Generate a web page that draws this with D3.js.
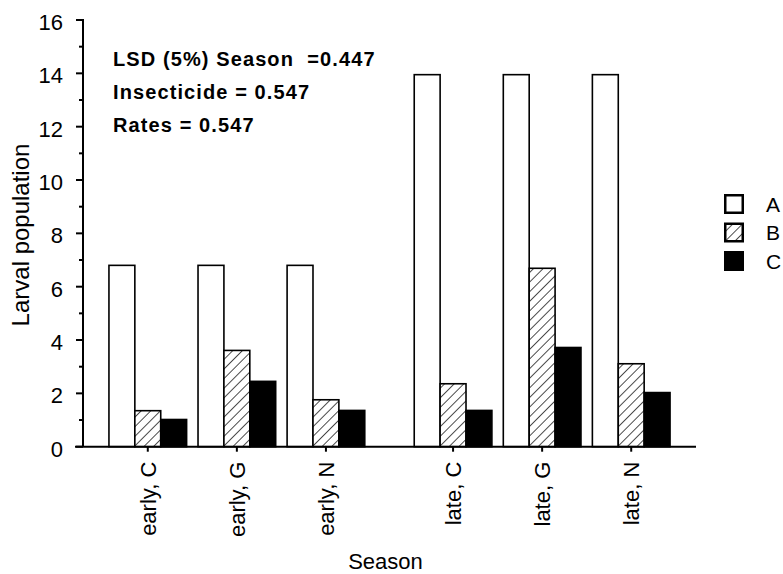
<!DOCTYPE html>
<html>
<head>
<meta charset="utf-8">
<script src="https://cdn.jsdelivr.net/npm/d3@7"></script>
<style>
  html, body { margin: 0; padding: 0; background: #fff; }
  svg { display: block; font-family: "Liberation Sans", Arial, sans-serif; }
</style>
</head>
<body>
<svg id="chart" width="783" height="574"></svg>
<script>
// Larval population by season x insecticide, three application rates
const seasons = ["early", "late"];
const insecticides = ["C", "G", "N"];
const rates = ["A", "B", "C"];

// values per (season, insecticide), in order early C, G, N, late C, G, N
const rateA = [6.8, 6.8, 6.8, 13.95, 13.95, 13.95];
const rateB = [1.35, 3.61, 1.76, 2.36, 6.69, 3.11];
const rateC = [1.02, 2.45, 1.36, 1.36, 3.72, 2.03];

const yTicks = [0, 2, 4, 6, 8, 10, 12, 14, 16];
const yMinorTicks = [1, 3, 5, 7, 9, 11, 13, 15];

const lsdLines = [
  "LSD (5%) Season  =0.447",
  "Insecticide = 0.547",
  "Rates = 0.547"
];

const seriesValues = [rateA, rateB, rateC];
const rows = [];
seasons.forEach((s, si) => insecticides.forEach((ins, ii) => {
  const k = si * insecticides.length + ii;
  rows.push({
    season: s, insecticide: ins,
    label: s + ", " + ins,
    values: rates.map((r, ri) => ({ rate: r, value: seriesValues[ri][k] }))
  });
}));

const svg = d3.select("#chart");
const axisX = 83, axisRight = 696, baseY = 446.7, topY = 20;

const y = d3.scaleLinear().domain([0, 16]).range([baseY, topY]);

const xSeason = d3.scaleBand().domain(seasons)
  .range([axisX, axisRight]).paddingInner(0.162).paddingOuter(0.085);
const xIns = d3.scaleBand().domain(insecticides)
  .range([0, xSeason.bandwidth()]).paddingInner(0.128).paddingOuter(0);
const xRate = d3.scaleBand().domain(rates)
  .range([0, xIns.bandwidth()]).padding(0);

// diagonal hatch fill for rate B
const defs = svg.append("defs");
const pat = defs.append("pattern")
  .attr("id", "hatch")
  .attr("patternUnits", "userSpaceOnUse")
  .attr("width", 6.8).attr("height", 6.8)
  .attr("patternTransform", "rotate(45)");
pat.append("rect").attr("width", 6.8).attr("height", 6.8).attr("fill", "#fff");
pat.append("line").attr("x1", 0).attr("y1", 0).attr("x2", 0).attr("y2", 6.8)
  .attr("stroke", "#000").attr("stroke-width", 1.4);

const fills = { A: "#fff", B: "url(#hatch)", C: "#000" };

// bars
const groups = svg.append("g").selectAll("g.grp").data(rows).join("g")
  .attr("class", "grp")
  .attr("transform", d => `translate(${xSeason(d.season) + xIns(d.insecticide)},0)`);

groups.selectAll("rect").data(d => d.values).join("rect")
  .attr("x", d => xRate(d.rate))
  .attr("y", d => y(d.value))
  .attr("width", xRate.bandwidth())
  .attr("height", d => baseY - y(d.value))
  .attr("fill", d => fills[d.rate])
  .attr("stroke", "#000")
  .attr("stroke-width", 1.6);

// y axis
const yAxis = svg.append("g").attr("transform", `translate(${axisX},0)`);
yAxis.append("line").attr("x1", 0).attr("x2", 0)
  .attr("y1", y(16) - 1).attr("y2", baseY)
  .attr("stroke", "#000").attr("stroke-width", 2);
yAxis.selectAll("line.major").data(yTicks).join("line")
  .attr("class", "major")
  .attr("x1", -7).attr("x2", 0)
  .attr("y1", d => y(d)).attr("y2", d => y(d))
  .attr("stroke", "#000").attr("stroke-width", 2);
yAxis.selectAll("line.minor").data(yMinorTicks).join("line")
  .attr("class", "minor")
  .attr("x1", -4).attr("x2", 0)
  .attr("y1", d => y(d)).attr("y2", d => y(d))
  .attr("stroke", "#000").attr("stroke-width", 2);
yAxis.selectAll("text").data(yTicks).join("text")
  .attr("x", -20).attr("y", d => y(d))
  .attr("dy", "0.45em")
  .attr("text-anchor", "end")
  .attr("font-size", 22)
  .text(d => d);

// x axis
svg.append("line")
  .attr("x1", axisX - 8).attr("x2", axisRight)
  .attr("y1", baseY).attr("y2", baseY)
  .attr("stroke", "#000").attr("stroke-width", 2);

const tickX = d => xSeason(d.season) + xIns(d.insecticide) + xIns.bandwidth() / 2;
svg.append("g").selectAll("line").data(rows).join("line")
  .attr("x1", tickX).attr("x2", tickX)
  .attr("y1", baseY).attr("y2", baseY + 5)
  .attr("stroke", "#000").attr("stroke-width", 2);

svg.append("g").selectAll("text").data(rows).join("text")
  .attr("transform", d => `translate(${tickX(d)},${baseY + 15}) rotate(-90)`)
  .attr("dy", "0.36em")
  .attr("text-anchor", "end")
  .attr("font-size", 22)
  .text(d => d.label);

// axis titles
svg.append("text")
  .attr("x", (axisX + axisRight) / 2 - 4).attr("y", 569)
  .attr("text-anchor", "middle")
  .attr("font-size", 22)
  .text("Season");

svg.append("text")
  .attr("transform", `translate(29,235) rotate(-90)`)
  .attr("text-anchor", "middle")
  .attr("font-size", 24)
  .text("Larval population");

// LSD annotation
svg.append("g").selectAll("text").data(lsdLines).join("text")
  .attr("x", 113)
  .attr("y", (d, i) => 65.7 + i * 33.3)
  .attr("font-size", 20)
  .attr("font-weight", "bold")
  .attr("letter-spacing", 1.1)
  .style("white-space", "pre")
  .text(d => d);

// legend
const legend = svg.append("g").selectAll("g").data(rates).join("g")
  .attr("transform", (d, i) => `translate(724,${194 + i * 28.5})`);
legend.append("rect")
  .attr("x", 1.25).attr("y", 1.25)
  .attr("width", 17.5).attr("height", 17.5)
  .attr("fill", d => fills[d])
  .attr("stroke", "#000").attr("stroke-width", 2.5);
legend.append("text")
  .attr("x", 42).attr("y", 10)
  .attr("dy", "0.36em")
  .attr("font-size", 21)
  .text(d => d);
</script>
</body>
</html>
